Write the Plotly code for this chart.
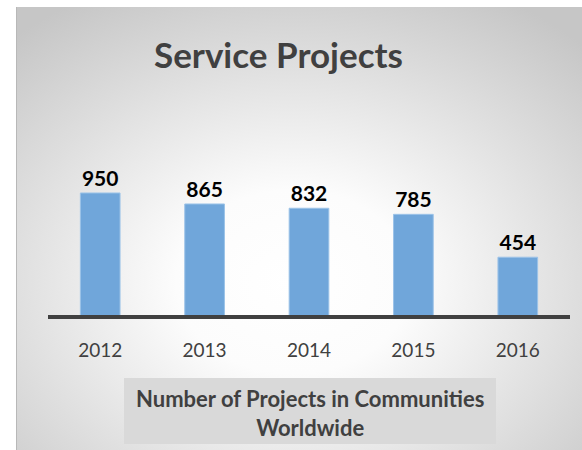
import base64
import plotly.graph_objects as go

years = ["2012", "2013", "2014", "2015", "2016"]
projects = [950, 865, 832, 785, 454]
title_text = "Service Projects"
caption_text = "Number of Projects in Communities<br>Worldwide"

W, H = 582, 450
L, R, T, B = 48, 12, 150, 134
pw, ph = W - L - R, H - T - B

def px_x(px):
    return (px - L) / pw

def px_y(py):
    return (H - B - py) / ph

svg = (
    '<svg xmlns="http://www.w3.org/2000/svg" width="566" height="443" '
    'viewBox="0 0 566 443" preserveAspectRatio="none">'
    '<defs><radialGradient id="g" cx="0.49" cy="0.62" r="0.74">'
    '<stop offset="0" stop-color="#ffffff"/>'
    '<stop offset="0.28" stop-color="#fcfcfc"/>'
    '<stop offset="1" stop-color="#c6c6c6"/>'
    '</radialGradient></defs>'
    '<rect x="0" y="0" width="566" height="443" fill="url(#g)"/>'
    '</svg>'
)
src = "data:image/svg+xml;base64," + base64.b64encode(svg.encode()).decode()

font_family = "Lato, 'Open Sans', sans-serif"

fig = go.Figure()
fig.add_trace(go.Bar(
    x=years, y=projects,
    marker=dict(color="#70a6da", line=dict(color="#9cc3e8", width=1)),
    text=[str(v) for v in projects],
    textposition="outside",
    textfont=dict(family=font_family, size=21, color="#000000", weight="bold"),
    cliponaxis=False,
    width=0.38,
    hoverinfo="skip",
))

fig.update_layout(
    width=W, height=H,
    margin=dict(l=L, r=R, t=T, b=B, autoexpand=False),
    paper_bgcolor="#ffffff",
    plot_bgcolor="rgba(0,0,0,0)",
    showlegend=False,
    images=[dict(
        source=src, xref="paper", yref="paper",
        x=px_x(16), y=px_y(7),
        sizex=px_x(582) - px_x(16), sizey=px_y(7) - px_y(450),
        sizing="stretch", xanchor="left", yanchor="top", layer="below",
    )],
    xaxis=dict(
        showgrid=False, showline=False, zeroline=False, fixedrange=True,
        ticks="", tickfont=dict(family=font_family, size=19, color="#404040"),
        ticklabelstandoff=21,
    ),
    yaxis=dict(
        range=[0, ph / 0.1295], visible=False, showgrid=False, zeroline=False,
        fixedrange=True,
    ),
    shapes=[
        dict(type="line", xref="paper", yref="paper", x0=0, x1=1,
             y0=px_y(317), y1=px_y(317),
             line=dict(color="#404040", width=4), layer="above"),
        dict(type="rect", xref="paper", yref="paper",
             x0=px_x(124), x1=px_x(496), y0=px_y(378), y1=px_y(444),
             fillcolor="#d9d9d9", line=dict(width=0), layer="above"),
        dict(type="line", xref="paper", yref="paper",
             x0=px_x(16.5), x1=px_x(16.5), y0=px_y(7), y1=px_y(450),
             line=dict(color="#b8b8b8", width=1), layer="above"),
    ],
    annotations=[
        dict(text=f"<b>{title_text}</b>", xref="paper", yref="paper",
             x=px_x(278), y=px_y(54), xanchor="center", yanchor="middle",
             showarrow=False,
             font=dict(family=font_family, size=35, color="#404040")),
        dict(text=f"<b>{caption_text}</b>", xref="paper", yref="paper",
             x=px_x(310), y=px_y(413), xanchor="center", yanchor="middle",
             showarrow=False, align="center",
             font=dict(family=font_family, size=22, color="#404040")),
    ],
)

fig.write_html(
    "out.html",
    config={"displayModeBar": False},
    post_script="document.body.style.margin='0';document.body.style.padding='0';",
)
